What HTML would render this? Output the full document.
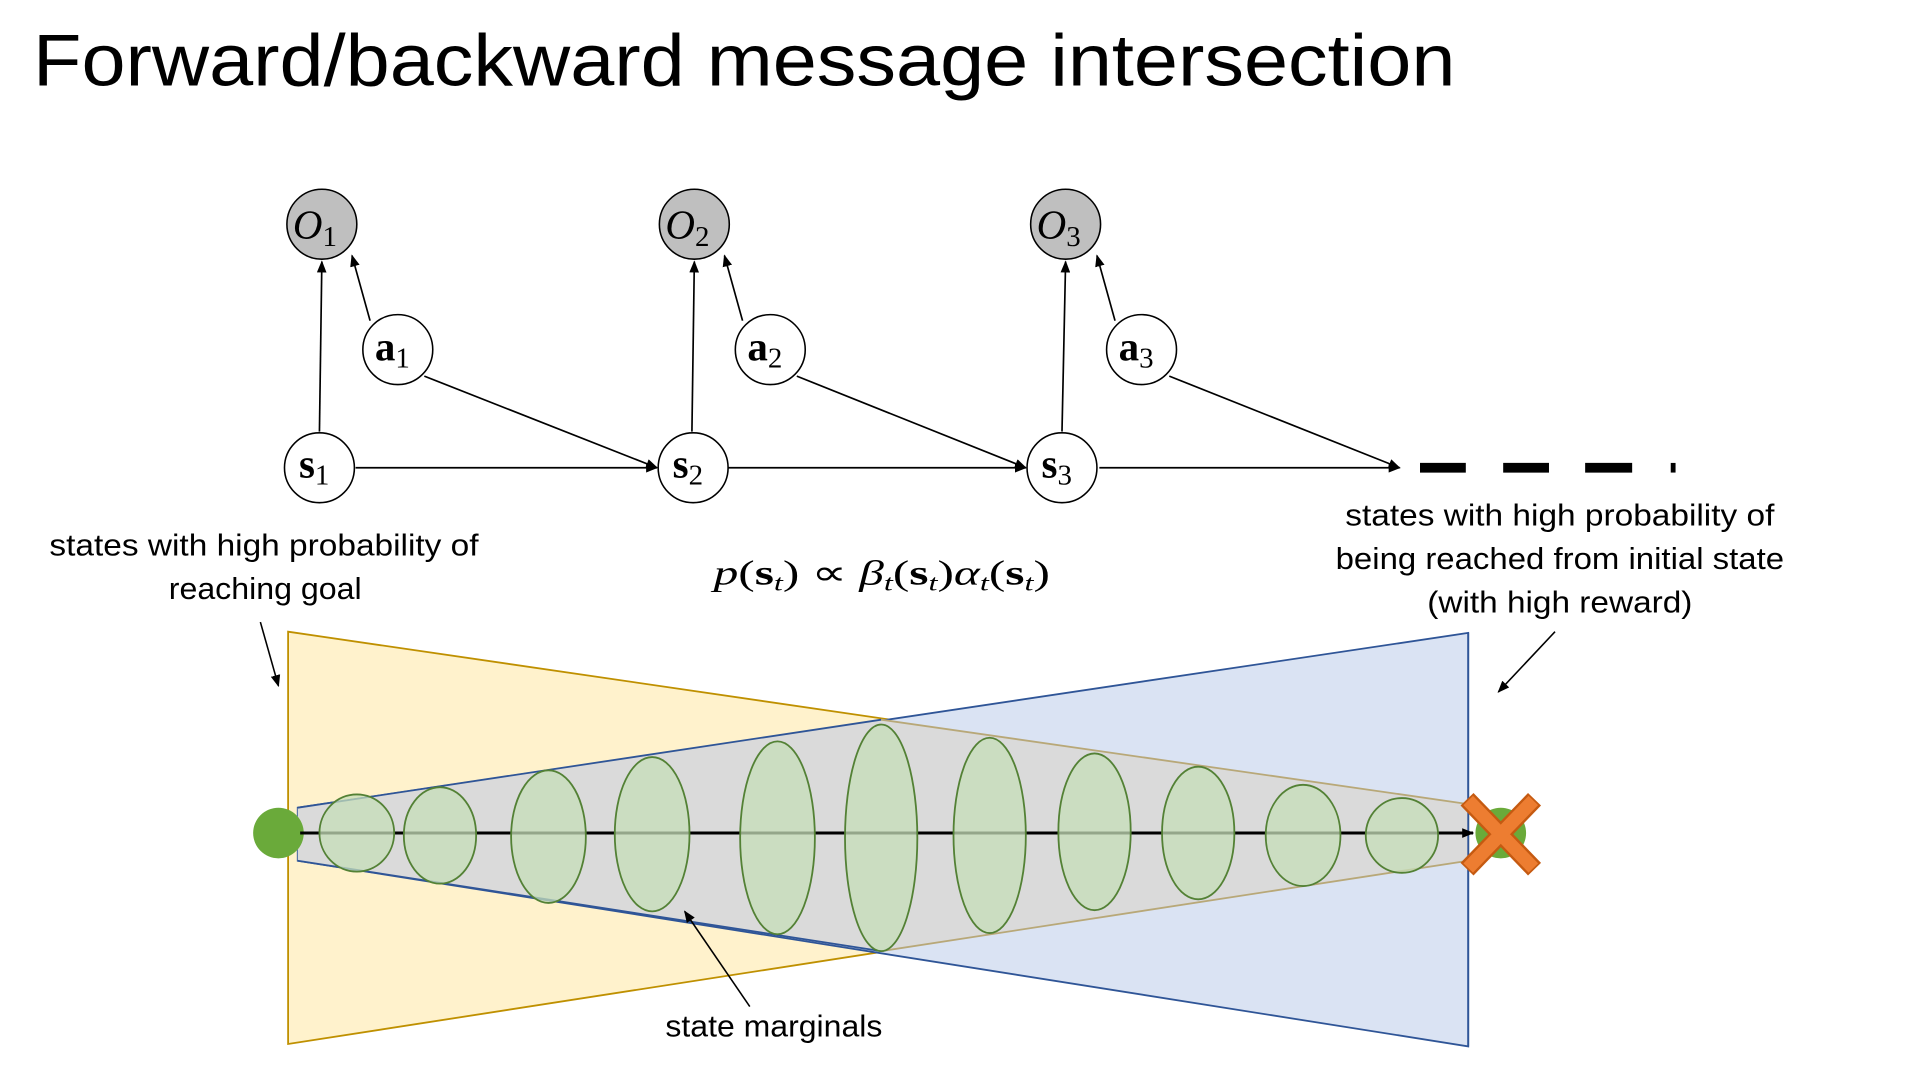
<!DOCTYPE html>
<html><head><meta charset="utf-8"><style>
html,body{margin:0;padding:0;background:#fff;overflow:hidden}
svg{display:block}
.t{font-family:"Liberation Sans",sans-serif}
.m{font-family:"Liberation Serif",serif}
</style></head><body>
<svg width="1920" height="1080" viewBox="0 0 1545 869" preserveAspectRatio="none" xmlns="http://www.w3.org/2000/svg">
<defs>
<marker id="ah" markerWidth="10" markerHeight="8" refX="9" refY="4" orient="auto" markerUnits="userSpaceOnUse"><path d="M0,0 L10,4 L0,8 z" fill="#000"/></marker>
</defs>
<g transform="scale(0.985)">
<text x="27" y="70" class="t" font-size="60" fill="#000" textLength="1162" lengthAdjust="spacingAndGlyphs">Forward/backward message intersection</text>
</g>
<g transform="scale(0.970)">
<!-- graph edges -->
<g stroke="#000" stroke-width="1.4" fill="none" marker-end="url(#ah)">
<line x1="265" y1="358" x2="267" y2="217"/>
<line x1="307" y1="266" x2="292" y2="212"/>
<line x1="352" y1="312" x2="545" y2="388"/>
<line x1="295" y1="388" x2="545" y2="388"/>
<line x1="574" y1="358" x2="576" y2="217"/>
<line x1="616" y1="266" x2="601" y2="212"/>
<line x1="661" y1="312" x2="851" y2="388"/>
<line x1="604" y1="388" x2="851" y2="388"/>
<line x1="881" y1="358" x2="884" y2="217"/>
<line x1="925" y1="266" x2="910" y2="212"/>
<line x1="970" y1="312" x2="1161" y2="388"/>
<line x1="912" y1="388" x2="1161" y2="388"/>
</g>
<g stroke="#000" stroke-width="8">
<line x1="1178" y1="388" x2="1216" y2="388"/>
<line x1="1247" y1="388" x2="1285" y2="388"/>
<line x1="1315" y1="388" x2="1354" y2="388"/>
<line x1="1386" y1="388" x2="1390" y2="388"/>
</g>
<!-- nodes -->
<g stroke="#000" stroke-width="1.3">
<circle cx="267" cy="186" r="29" fill="#bfbfbf"/>
<circle cx="576" cy="186" r="29" fill="#bfbfbf"/>
<circle cx="884" cy="186" r="29" fill="#bfbfbf"/>
<circle cx="330" cy="290" r="29" fill="#fff"/>
<circle cx="639" cy="290" r="29" fill="#fff"/>
<circle cx="947" cy="290" r="29" fill="#fff"/>
<circle cx="265" cy="388" r="29" fill="#fff"/>
<circle cx="575" cy="388" r="29" fill="#fff"/>
<circle cx="881" cy="388" r="29" fill="#fff"/>
</g>
<g class="m" font-size="34" fill="#000">
<text x="243" y="198" font-style="italic">O<tspan font-size="24" font-style="normal" dy="6">1</tspan></text>
<text x="552" y="198" font-style="italic">O<tspan font-size="24" font-style="normal" dy="6">2</tspan></text>
<text x="860" y="198" font-style="italic">O<tspan font-size="24" font-style="normal" dy="6">3</tspan></text>
<text x="311" y="299" font-weight="bold">a<tspan font-size="24" font-weight="normal" dy="6">1</tspan></text>
<text x="620" y="299" font-weight="bold">a<tspan font-size="24" font-weight="normal" dy="6">2</tspan></text>
<text x="928" y="299" font-weight="bold">a<tspan font-size="24" font-weight="normal" dy="6">3</tspan></text>
<text x="248" y="396" font-weight="bold">s<tspan font-size="24" font-weight="normal" dy="6">1</tspan></text>
<text x="558" y="396" font-weight="bold">s<tspan font-size="24" font-weight="normal" dy="6">2</tspan></text>
<text x="864" y="396" font-weight="bold">s<tspan font-size="24" font-weight="normal" dy="6">3</tspan></text>
</g>

<!-- labels -->
<g class="t" font-size="25" fill="#000">
<text x="41" y="461" textLength="356" lengthAdjust="spacingAndGlyphs">states with high probability of</text>
<text x="140" y="497" textLength="160" lengthAdjust="spacingAndGlyphs">reaching goal</text>
<text x="1116" y="436" textLength="356" lengthAdjust="spacingAndGlyphs">states with high probability of</text>
<text x="1108" y="472" textLength="372" lengthAdjust="spacingAndGlyphs">being reached from initial state</text>
<text x="1184" y="508" textLength="220" lengthAdjust="spacingAndGlyphs">(with high reward)</text>
<text x="552" y="860" textLength="180" lengthAdjust="spacingAndGlyphs">state marginals</text>
</g>
<text x="592" y="485" class="m" font-size="29" fill="#000" textLength="279" lengthAdjust="spacingAndGlyphs"><tspan font-style="italic">p</tspan>(<tspan font-weight="bold">s</tspan><tspan font-style="italic" font-size="19" dy="5">t</tspan><tspan dy="-5">) ∝ </tspan><tspan font-style="italic">β</tspan><tspan font-style="italic" font-size="19" dy="5">t</tspan><tspan dy="-5">(</tspan><tspan font-weight="bold">s</tspan><tspan font-style="italic" font-size="19" dy="5">t</tspan><tspan dy="-5">)</tspan><tspan font-style="italic">α</tspan><tspan font-style="italic" font-size="19" dy="5">t</tspan><tspan dy="-5">(</tspan><tspan font-weight="bold">s</tspan><tspan font-style="italic" font-size="19" dy="5">t</tspan><tspan dy="-5">)</tspan></text>

<!-- cones -->
<polygon points="239,524 1218,667 1218,714 239,866" fill="#fff2cc" stroke="#bf9000" stroke-width="1.5"/>
<polygon points="1218,525 247,670 247,714 1218,868" fill="#dae3f3" stroke="#2f5597" stroke-width="1.5"/>
<polygon points="247,670 731,597 1218,667 1218,714 731,789 247,714" fill="#dadada"/>
<line x1="247" y1="670" x2="731" y2="597" stroke="#2f5597" stroke-width="1.5"/>
<line x1="247" y1="714" x2="731" y2="789" stroke="#2f5597" stroke-width="1.5"/>
<line x1="731" y1="597" x2="1218" y2="667" stroke="#b8a878" stroke-width="1.5"/>
<line x1="731" y1="789" x2="1218" y2="714" stroke="#b8a878" stroke-width="1.5"/>
<line x1="1218" y1="525" x2="1218" y2="868" stroke="#2f5597" stroke-width="1.5"/>

<circle cx="231" cy="691" r="21" fill="#6aaa3a"/>
<circle cx="1245" cy="691" r="21" fill="#6aaa3a"/>
<line x1="249" y1="691" x2="1222" y2="691" stroke="#000" stroke-width="2.5" marker-end="url(#ah)"/>
<g fill="#c5ddb8" fill-opacity="0.75" stroke="#538135" stroke-width="1.5">
<ellipse cx="296" cy="691" rx="31" ry="32"/>
<ellipse cx="365" cy="693" rx="30" ry="40"/>
<ellipse cx="455" cy="694" rx="31" ry="55"/>
<ellipse cx="541" cy="692" rx="31" ry="64"/>
<ellipse cx="645" cy="695" rx="31" ry="80"/>
<ellipse cx="731" cy="695" rx="30" ry="94"/>
<ellipse cx="821" cy="693" rx="30" ry="81"/>
<ellipse cx="908" cy="690" rx="30" ry="65"/>
<ellipse cx="994" cy="691" rx="30" ry="55"/>
<ellipse cx="1081" cy="693" rx="31" ry="42"/>
<ellipse cx="1163" cy="693" rx="30" ry="31"/>
</g>
<g stroke="#c55a11" stroke-width="15">
<line x1="1217" y1="663" x2="1273" y2="721"/>
<line x1="1273" y1="663" x2="1217" y2="721"/>
</g>
<g stroke="#ed7d31" stroke-width="11">
<line x1="1218" y1="664" x2="1272" y2="720"/>
<line x1="1272" y1="664" x2="1218" y2="720"/>
</g>

<g stroke="#000" stroke-width="1.3" marker-end="url(#ah)">
<line x1="216" y1="516" x2="231" y2="569"/>
<line x1="1290" y1="524" x2="1243" y2="574"/>
<line x1="622" y1="835" x2="568" y2="756"/>
</g>
</g>
</svg>
</body></html>
